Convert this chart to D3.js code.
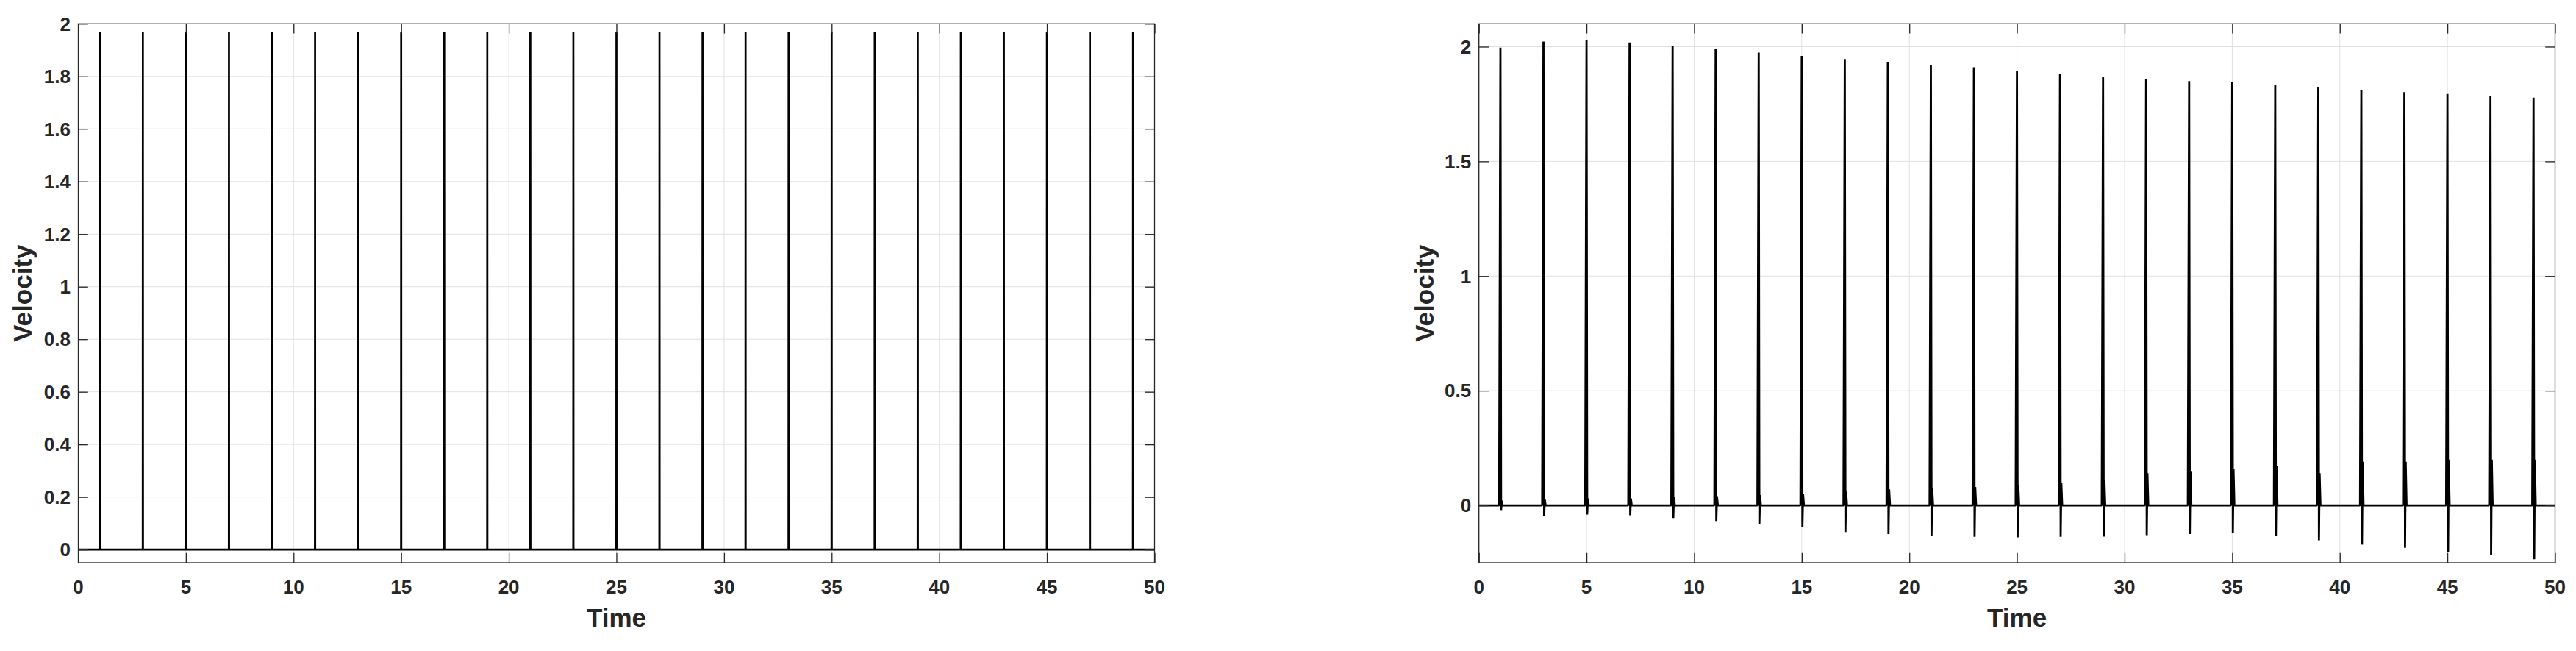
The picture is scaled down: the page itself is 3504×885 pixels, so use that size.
<!DOCTYPE html>
<html>
<head>
<meta charset="utf-8">
<script src="https://cdn.jsdelivr.net/npm/d3@7"></script>
<style>
  html, body { margin: 0; padding: 0; background: #ffffff; }
  svg { display: block; }
  text { font-family: "Liberation Sans", Arial, Helvetica, sans-serif; font-weight: bold; fill: #262626; }
</style>
</head>
<body>
<svg id="chart" width="3504" height="885"></svg>
<script>
// ---------------- DATA ----------------
const spikeTimes = [1, 3, 5, 7, 9, 11, 13, 15, 17, 19, 21, 23, 25, 27, 29, 31, 33, 35, 37, 39, 41, 43, 45, 47, 49];

// Left panel: spike peak values
const leftPeaks = [1.97, 1.97, 1.97, 1.97, 1.97, 1.97, 1.97, 1.97, 1.97, 1.97, 1.97, 1.97, 1.97,
                   1.97, 1.97, 1.97, 1.97, 1.97, 1.97, 1.97, 1.97, 1.97, 1.97, 1.97, 1.97];

// Right panel: spike peak, undershoot and ringing values
const rightPeaks = [1.996, 2.022, 2.027, 2.018, 2.005, 1.99, 1.974, 1.96, 1.946, 1.934, 1.92, 1.91, 1.895,
                    1.88, 1.87, 1.86, 1.85, 1.845, 1.835, 1.825, 1.812, 1.802, 1.794, 1.785, 1.778];
const rightDips = [-0.02, -0.046, -0.04, -0.043, -0.055, -0.068, -0.083, -0.096, -0.116, -0.125, -0.133, -0.137, -0.139,
                   -0.137, -0.136, -0.13, -0.125, -0.12, -0.134, -0.152, -0.171, -0.185, -0.203, -0.218, -0.235];
const rightRings = [0.02, 0.025, 0.03, 0.03, 0.035, 0.04, 0.045, 0.05, 0.06, 0.07, 0.075, 0.08, 0.09,
                    0.097, 0.109, 0.14, 0.15, 0.157, 0.173, 0.14, 0.19, 0.19, 0.2, 0.2, 0.2];

const xDomain = [0, 50];
const xTicks = [0, 5, 10, 15, 20, 25, 30, 35, 40, 45, 50];
const leftYDomain = [-0.05, 2];
const leftYTicks = [0, 0.2, 0.4, 0.6, 0.8, 1, 1.2, 1.4, 1.6, 1.8, 2];
const rightYDomain = [-0.25, 2.1];
const rightYTicks = [0, 0.5, 1, 1.5, 2];
const xLabel = "Time";
const yLabel = "Velocity";

// ---------------- DRAW ----------------
const svg = d3.select("#chart");
const ink = "#262626";
const gridColor = "#e0e0e0";

function drawPanel(opt) {
  const x = d3.scaleLinear().domain(xDomain).range([opt.left, opt.right]);
  const y = d3.scaleLinear().domain(opt.yDomain).range([opt.bottom, opt.top]);
  const g = svg.append("g");
  const tickLen = 13.3;

  // grid
  g.append("g").selectAll("line.gx").data(xTicks).join("line")
    .attr("x1", d => x(d)).attr("x2", d => x(d))
    .attr("y1", opt.top).attr("y2", opt.bottom)
    .attr("stroke", gridColor).attr("stroke-width", 1);
  g.append("g").selectAll("line.gy").data(opt.yTicks).join("line")
    .attr("y1", d => y(d)).attr("y2", d => y(d))
    .attr("x1", opt.left).attr("x2", opt.right)
    .attr("stroke", gridColor).attr("stroke-width", 1);

  // data line
  const pts = [[xDomain[0], 0]];
  opt.points(pts);
  pts.push([xDomain[1], 0]);
  const line = d3.line().x(d => x(d[0])).y(d => y(d[1]));
  g.append("path").attr("d", line(pts))
    .attr("fill", "none").attr("stroke", "#000000")
    .attr("stroke-width", opt.lw).attr("stroke-linejoin", "bevel");

  // axes with inward ticks (mirrored)
  const axB = d3.axisBottom(x).tickValues(xTicks).tickSizeInner(-tickLen).tickSizeOuter(0).tickFormat("");
  const axT = d3.axisTop(x).tickValues(xTicks).tickSizeInner(-tickLen).tickSizeOuter(0).tickFormat("");
  const axL = d3.axisLeft(y).tickValues(opt.yTicks).tickSizeInner(-tickLen).tickSizeOuter(0).tickFormat("");
  const axR = d3.axisRight(y).tickValues(opt.yTicks).tickSizeInner(-tickLen).tickSizeOuter(0).tickFormat("");
  [[axB, `translate(0,${opt.bottom})`], [axT, `translate(0,${opt.top})`],
   [axL, `translate(${opt.left},0)`], [axR, `translate(${opt.right},0)`]].forEach(([ax, tr]) => {
    const a = g.append("g").attr("transform", tr).call(ax);
    a.selectAll("path.domain").remove();
    a.selectAll("line").attr("stroke", ink).attr("stroke-width", 1.3);
  });
  g.append("rect").attr("x", opt.left).attr("y", opt.top)
    .attr("width", opt.right - opt.left).attr("height", opt.bottom - opt.top)
    .attr("fill", "none").attr("stroke", ink).attr("stroke-width", 1.3);

  // tick labels
  g.append("g").selectAll("text").data(xTicks).join("text")
    .attr("x", d => x(d)).attr("y", opt.bottom + 42)
    .attr("text-anchor", "middle").attr("font-size", 26)
    .text(d => d3.format("~g")(d));
  g.append("g").selectAll("text").data(opt.yTicks).join("text")
    .attr("x", opt.left - 10.5).attr("y", d => y(d) + 9.3)
    .attr("text-anchor", "end").attr("font-size", 26)
    .text(d => d3.format("~g")(d));

  // axis labels
  g.append("text").attr("x", (opt.left + opt.right) / 2).attr("y", opt.bottom + 87)
    .attr("text-anchor", "middle").attr("font-size", 35).text(xLabel);
  const cy = (opt.top + opt.bottom) / 2;
  g.append("text").attr("transform", `translate(${opt.ylabelX},${cy}) rotate(-90)`)
    .attr("text-anchor", "middle").attr("font-size", 35).text(yLabel);
}

drawPanel({
  left: 106.5, right: 1570.5, top: 32.3, bottom: 765,
  yDomain: leftYDomain, yTicks: leftYTicks, ylabelX: 43, lw: 2.7,
  points: pts => spikeTimes.forEach((t, i) => {
    pts.push([t - 0.005, 0], [t, leftPeaks[i]], [t + 0.005, 0]);
  })
});

drawPanel({
  left: 2011.7, right: 3475.5, top: 32.3, bottom: 765,
  yDomain: rightYDomain, yTicks: rightYTicks, ylabelX: 1950, lw: 2.8,
  points: pts => spikeTimes.forEach((t, i) => {
    pts.push([t - 0.06, 0], [t, rightPeaks[i]], [t + 0.03, rightDips[i]],
             [t + 0.06, rightRings[i]], [t + 0.1, 0]);
  })
});
</script>
</body>
</html>
